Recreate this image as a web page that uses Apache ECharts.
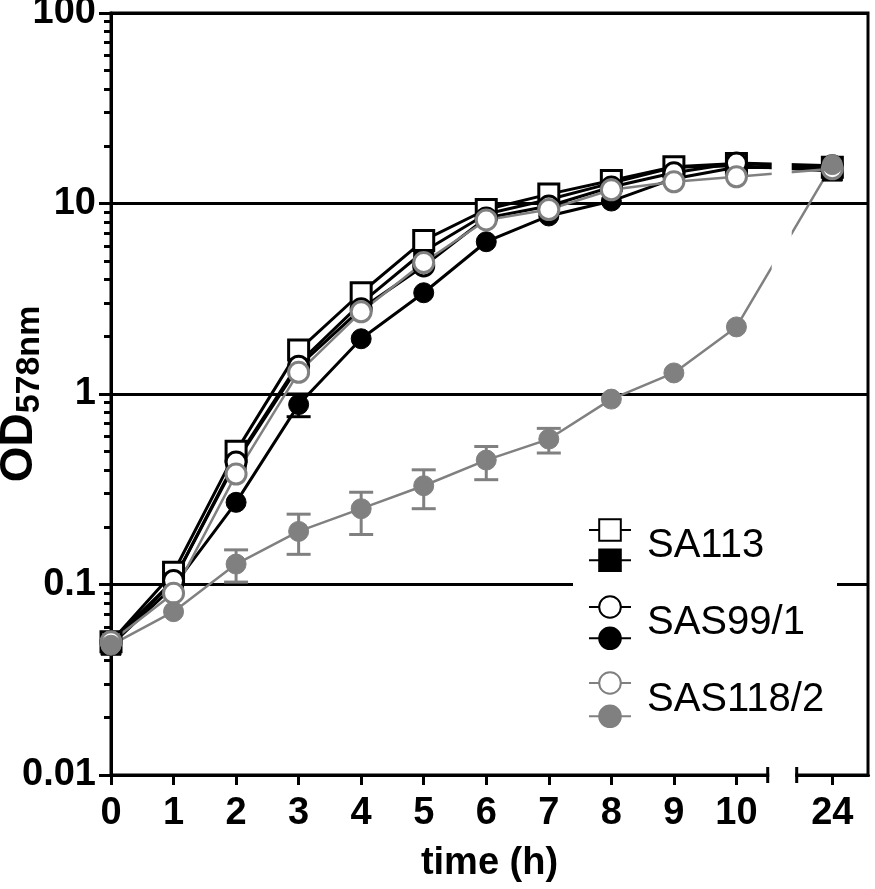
<!DOCTYPE html>
<html>
<head>
<meta charset="utf-8">
<script src="https://cdn.jsdelivr.net/npm/echarts@6/dist/echarts.min.js"></script>
<style>
  html, body { margin: 0; padding: 0; background: #fff; }
  #chart { width: 875px; height: 889px; }
</style>
</head>
<body>
<div id="chart"></div>
<script>
// 时间点 (h)
const TIMES = [0, 1, 2, 3, 4, 5, 6, 7, 8, 9, 10, 24]
const X_TICKS = [0, 1, 2, 3, 4, 5, 6, 7, 8, 9, 10, 24]
// 对数轴的次刻度
const MINOR_TICKS = [
  0.02, 0.03, 0.04, 0.05, 0.06, 0.07, 0.08, 0.09,
  0.2, 0.3, 0.4, 0.5, 0.6, 0.7, 0.8, 0.9,
  2, 3, 4, 5, 6, 7, 8, 9,
  20, 30, 40, 50, 60, 70, 80, 90,
]
const GRID_VALUES = [10, 1]
// 坐标轴断开区间
const BREAK_START = 10.5
const BREAK_END = 23.43
const X_MAX = 24.57

// OD578 数据
const SA113_OPEN = [0.05, 0.116, 0.50, 1.70, 3.40, 6.4, 9.3, 11.2, 13.2, 15.6, 16.2, 15.5]
const SA113_FILLED = [0.048, 0.105, 0.45, 1.45, 3.0, 5.6, 8.8, 10.5, 12.8, 15.5, 15.8, 14.8]
const SAS99_OPEN = [0.05, 0.105, 0.44, 1.40, 2.8, 4.7, 8.4, 9.7, 12.2, 14.5, 16.3, 15.8]
const SAS99_FILLED = [0.048, 0.098, 0.27, 0.88, 1.95, 3.4, 6.3, 8.6, 10.3, 13.5, 15.5, 15.3]
const SAS118_OPEN = [0.05, 0.09, 0.38, 1.30, 2.7, 4.9, 8.2, 9.3, 11.8, 13.0, 13.8, 15.2]
const SAS118_FILLED = [0.048, 0.072, 0.128, 0.19, 0.25, 0.33, 0.45, 0.58, 0.94, 1.29, 2.25, 16.0]

// 误差棒
const SAS118_ERR_T = [2, 3, 4, 5, 6, 7]
const SAS118_ERR_LOW = [0.103, 0.144, 0.183, 0.25, 0.355, 0.49]
const SAS118_ERR_HIGH = [0.152, 0.234, 0.305, 0.40, 0.53, 0.66]
const SAS99_ERR_T = [3]
const SAS99_ERR_LOW = [0.76]
const SAS99_ERR_HIGH = [1.0]

const LEGEND_LABELS = ['SA113', 'SAS99/1', 'SAS118/2']

const FONT = 'Liberation Sans, Arial, sans-serif'
const GRAY = '#808080'
const GRID = { left: 111, top: 13, right: 7, bottom: 114 }
const GRID_WIDTH = 875 - GRID.left - GRID.right

function pairs(values) {
  return TIMES.map((t, i) => [t, values[i]])
}

function lineSeries(name, values, opt) {
  return {
    name: name,
    type: 'line',
    data: pairs(values),
    symbol: opt.symbol,
    symbolSize: 20,
    lineStyle: { color: opt.line, width: opt.lineWidth || 3 },
    itemStyle: {
      color: opt.fill,
      borderColor: opt.stroke,
      borderWidth: opt.borderWidth,
    },
    emphasis: { disabled: true },
    z: 2,
  }
}

function errorSeries(ts, lows, highs, color) {
  return {
    type: 'custom',
    data: ts.map((t, i) => [t, lows[i], highs[i]]),
    encode: { x: 0, y: [1, 2] },
    silent: true,
    z: 2,
    renderItem: function (params, api) {
      const x = api.value(0)
      const lo = api.coord([x, api.value(1)])
      const hi = api.coord([x, api.value(2)])
      const w = 12
      const style = { stroke: color, lineWidth: 3 }
      return {
        type: 'group',
        children: [
          { type: 'line', shape: { x1: lo[0], y1: lo[1], x2: hi[0], y2: hi[1] }, style: style },
          { type: 'line', shape: { x1: lo[0] - w, y1: lo[1], x2: lo[0] + w, y2: lo[1] }, style: style },
          { type: 'line', shape: { x1: hi[0] - w, y1: hi[1], x2: hi[0] + w, y2: hi[1] }, style: style },
        ],
      }
    },
  }
}

const series = [
  lineSeries('SA113 filled', SA113_FILLED, { symbol: 'rect', line: '#000', fill: '#000', stroke: '#000', borderWidth: 1 }),
  errorSeries(SAS99_ERR_T, SAS99_ERR_LOW, SAS99_ERR_HIGH, '#000'),
  lineSeries('SAS99/1 filled', SAS99_FILLED, { symbol: 'circle', line: '#000', fill: '#000', stroke: '#000', borderWidth: 1 }),
  lineSeries('SA113 open', SA113_OPEN, { symbol: 'rect', line: '#000', fill: '#fff', stroke: '#000', borderWidth: 3 }),
  lineSeries('SAS99/1 open', SAS99_OPEN, { symbol: 'circle', line: '#000', fill: '#fff', stroke: '#000', borderWidth: 3 }),
  lineSeries('SAS118/2 open', SAS118_OPEN, { symbol: 'circle', line: GRAY, fill: '#fff', stroke: GRAY, borderWidth: 3, lineWidth: 2.5 }),
  errorSeries(SAS118_ERR_T, SAS118_ERR_LOW, SAS118_ERR_HIGH, GRAY),
  lineSeries('SAS118/2 filled', SAS118_FILLED, { symbol: 'circle', line: GRAY, fill: GRAY, stroke: GRAY, borderWidth: 1, lineWidth: 2.5 }),
]

// 断开区间里的水平网格线（画在白色遮挡之上）
series[0].markLine = {
  silent: true,
  z: 5,
  symbol: ['none', 'none'],
  label: { show: false },
  lineStyle: { color: '#000', width: 3, type: 'solid' },
  data: GRID_VALUES.map((v) => [{ coord: [BREAK_START, v] }, { coord: [BREAK_END, v] }]),
}

function legendPair(names, top, gap) {
  return {
    left: 588,
    top: top,
    orient: 'vertical',
    padding: 0,
    itemWidth: 42,
    itemHeight: 27,
    itemGap: gap,
    selectedMode: false,
    formatter: () => '',
    data: names,
  }
}

const option = {
  animation: false,
  textStyle: { fontFamily: FONT },
  grid: Object.assign({
    show: true,
    borderColor: '#000',
    borderWidth: 3,
    backgroundColor: 'transparent',
    containLabel: false,
    outerBoundsMode: 'none',
  }, GRID),
  legend: [
    legendPair(['SA113 open', 'SA113 filled'], 516.5, 5),
    legendPair(['SAS99/1 open', 'SAS99/1 filled'], 593.5, 6),
    legendPair(['SAS118/2 open', 'SAS118/2 filled'], 669.5, 8),
  ],
  xAxis: {
    type: 'value',
    min: 0,
    max: X_MAX,
    breaks: [{ start: BREAK_START, end: BREAK_END, gap: '3.83%' }],
    breakArea: { show: false, expandOnClick: false },
    name: 'time (h)',
    nameLocation: 'middle',
    nameGap: 70,
    nameMoveOverlap: false,
    nameTextStyle: { color: '#000', fontSize: 38, fontWeight: 'bold', fontFamily: FONT },
    axisLine: { onZero: false, lineStyle: { color: '#000', width: 3 } },
    axisTick: { customValues: X_TICKS, length: 10, lineStyle: { color: '#000', width: 3 } },
    axisLabel: {
      customValues: X_TICKS,
      margin: 20,
      color: '#000',
      fontSize: 38,
      fontWeight: 'bold',
      fontFamily: FONT,
    },
    splitLine: { show: false },
  },
  yAxis: [
    {
      type: 'log',
      logBase: 10,
      min: 0.01,
      max: 100,
      position: 'left',
      name: '{od|OD}{sub|578nm}',
      nameLocation: 'middle',
      nameGap: 64,
      nameMoveOverlap: false,
      nameTextStyle: {
        color: '#000',
        rich: {
          od: { fontSize: 46, fontWeight: 'bold', fontFamily: FONT, color: '#000', verticalAlign: 'bottom', padding: [0, 0, 5, 0] },
          sub: { fontSize: 34, fontWeight: 'bold', fontFamily: FONT, color: '#000', verticalAlign: 'bottom' },
        },
      },
      axisLine: { show: true, lineStyle: { color: '#000', width: 3 } },
      axisTick: { length: 12, lineStyle: { color: '#000', width: 3 } },
      axisLabel: { margin: 15, color: '#000', fontSize: 38, fontWeight: 'bold', fontFamily: FONT },
      splitLine: { show: true, lineStyle: { color: '#000', width: 3 } },
      minorTick: { show: false },
    },
    {
      // 次刻度辅助轴（log10 空间）
      type: 'value',
      min: -2,
      max: 2,
      position: 'right',
      offset: -GRID_WIDTH,
      axisLine: { show: false },
      axisTick: {
        show: true,
        inside: true,
        length: 7,
        customValues: MINOR_TICKS.map((v) => Math.log10(v)),
        lineStyle: { color: '#000', width: 3 },
      },
      axisLabel: { show: false },
      splitLine: { show: false },
    },
  ],
  series: series,
}

const chart = echarts.init(document.getElementById('chart'), null, { renderer: 'canvas' })
chart.setOption(option)

// 断开处的遮挡与端点刻度、图例白底与文字
const xs = chart.convertToPixel({ xAxisIndex: 0 }, BREAK_START)
const xe = chart.convertToPixel({ xAxisIndex: 0 }, BREAK_END)
const yTop = chart.convertToPixel({ yAxisIndex: 0 }, 100)
const yBot = chart.convertToPixel({ yAxisIndex: 0 }, 0.01)

chart.setOption({
  graphic: [
    {
      type: 'rect', silent: true, z: 3,
      shape: { x: xs + 4, y: yTop + 2, width: xe - xs - 9, height: yBot - yTop - 4 },
      style: { fill: '#fff' },
    },
    {
      type: 'rect', silent: true, z: 3,
      shape: { x: xs + 1.5, y: yBot - 3, width: xe - xs - 3, height: 6 },
      style: { fill: '#fff' },
    },
    {
      type: 'line', silent: true, z: 4,
      shape: { x1: xs, y1: yBot - 8, x2: xs, y2: yBot + 8 },
      style: { stroke: '#000', lineWidth: 3 },
    },
    {
      type: 'line', silent: true, z: 4,
      shape: { x1: xe, y1: yBot - 8, x2: xe, y2: yBot + 8 },
      style: { stroke: '#000', lineWidth: 3 },
    },
    {
      type: 'rect', silent: true, z: 3,
      shape: { x: 573, y: 505, width: 264, height: 240 },
      style: { fill: '#fff' },
    },
  ].concat(LEGEND_LABELS.map((label, i) => ({
    type: 'text', silent: true, z: 5,
    x: 647,
    y: [546, 623, 700][i],
    style: {
      text: label,
      fontSize: 40,
      fontFamily: FONT,
      fill: '#000',
      verticalAlign: 'middle',
    },
  }))),
})
</script>
</body>
</html>
